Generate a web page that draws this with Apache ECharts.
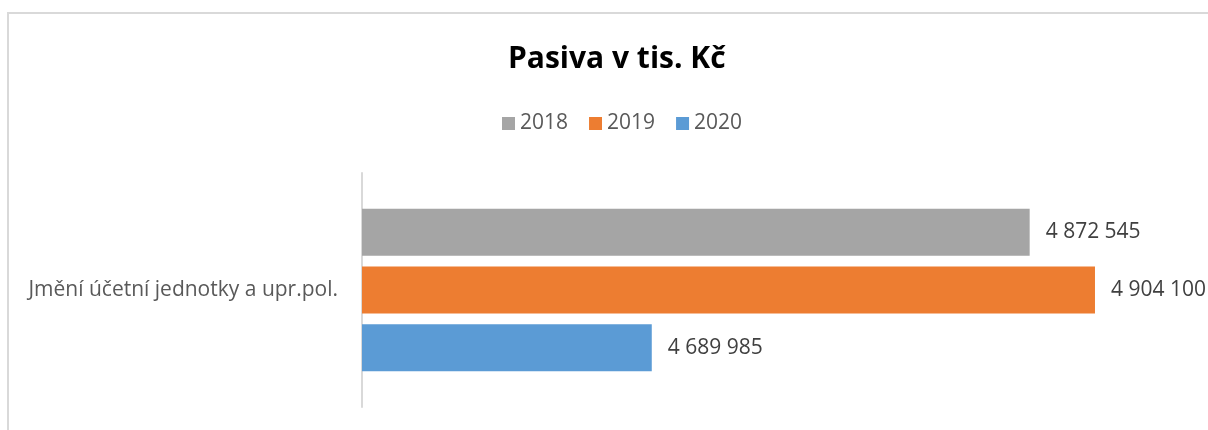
<!DOCTYPE html>
<html>
<head>
<meta charset="utf-8">
<script src="https://cdn.jsdelivr.net/npm/echarts@6/dist/echarts.min.js"></script>
<style>
  html, body { margin: 0; padding: 0; background: #fff; }
  #chart { width: 1208px; height: 430px; }
</style>
</head>
<body>
<div id="chart"></div>
<script>
const categories = ['Jmění účetní jednotky a upr.pol.']
const years = ['2018', '2019', '2020']
const values2018 = [4872545]
const values2019 = [4904100]
const values2020 = [4689985]
const colors = ['#a5a5a5', '#ed7d31', '#5b9bd5']

const font = 'Open Sans, Liberation Sans, sans-serif'

function fmt(v) {
  return String(v).replace(/\B(?=(\d{3})+(?!\d))/g, ' ')
}

const seriesData = [values2018, values2019, values2020]

const ec = echarts.init(document.getElementById('chart'))
ec.setOption({
  animation: false,
  title: {
    text: 'Pasiva v tis. Kč',
    left: 503,
    top: 39,
    textStyle: {
      fontFamily: font,
      fontSize: 30,
      fontWeight: 'bold',
      color: '#000'
    }
  },
  legend: {
    data: years,
    top: 108,
    left: 497,
    itemWidth: 13,
    itemHeight: 13,
    itemGap: 21,
    icon: 'rect',
    textStyle: {
      fontFamily: font,
      fontSize: 21,
      color: '#595959'
    }
  },
  graphic: [{
    type: 'rect',
    shape: {x: 8, y: 13, width: 1220, height: 440},
    style: {fill: 'none', stroke: '#d9d9d9', lineWidth: 2},
    silent: true
  }],
  grid: {
    left: 362,
    right: 18,
    top: 173,
    bottom: 23
  },
  xAxis: {
    type: 'value',
    min: 4550000,
    max: 4950000,
    show: false
  },
  yAxis: {
    type: 'category',
    data: categories,
    inverse: true,
    axisLine: {lineStyle: {color: '#d9d9d9', width: 2}},
    axisTick: {show: false},
    axisLabel: {
      fontFamily: font,
      fontSize: 21,
      color: '#595959',
      margin: 24
    }
  },
  series: years.map((y, i) => ({
    name: y,
    type: 'bar',
    data: seriesData[i],
    barWidth: 47,
    barGap: '23%',
    itemStyle: {color: colors[i]},
    label: {
      show: true,
      position: 'right',
      distance: 16,
      formatter: p => fmt(p.value),
      fontFamily: font,
      fontSize: 21,
      color: '#404040'
    }
  }))
})
</script>
</body>
</html>
